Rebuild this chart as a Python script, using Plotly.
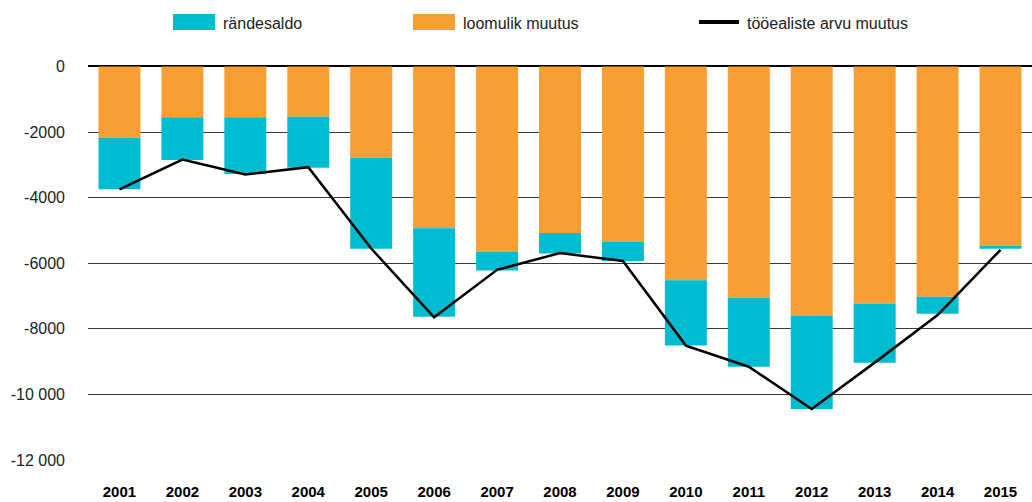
import plotly.graph_objects as go

years = [str(y) for y in range(2001, 2016)]
loomulik_muutus = [-2170, -1550, -1550, -1530, -2780, -4935, -5650, -5080, -5355, -6520, -7050, -7610, -7235, -7020, -5465]
randesaldo = [-1575, -1300, -1730, -1555, -2775, -2700, -570, -620, -580, -1990, -2105, -2835, -1800, -520, -90]
tooealiste_muutus = [-3745, -2840, -3290, -3070, -5550, -7650, -6200, -5690, -5930, -8510, -9155, -10445, -9030, -7580, -5590]

y_ticks = [0, -2000, -4000, -6000, -8000, -10000, -12000]
y_ticktext = ["0", "-2000", "-4000", "-6000", "-8000", "-10 000", "-12 000"]

legend_labels = ["rändesaldo", "loomulik muutus", "tööealiste arvu muutus"]

CYAN = "#00BCD0"
ORANGE = "#F89E32"

W, H = 1032, 502
ML, MR, MT, MB = 88, 0, 66, 41
PW, PH = W - ML - MR, H - MT - MB

def px(x):
    return (x - ML) / PW

def py(y):
    return (H - MB - y) / PH

fig = go.Figure()
fig.add_trace(go.Bar(x=years, y=loomulik_muutus, name=legend_labels[1],
                     marker=dict(color=ORANGE, line=dict(width=0))))
fig.add_trace(go.Bar(x=years, y=randesaldo, name=legend_labels[0],
                     marker=dict(color=CYAN, line=dict(width=0))))
fig.add_trace(go.Scatter(x=years, y=tooealiste_muutus, name=legend_labels[2],
                         mode="lines", line=dict(color="black", width=2.5)))

font_main = "Liberation Sans, Arial, Helvetica, sans-serif"

shapes = [
    dict(type="rect", xref="paper", yref="paper", x0=px(173), x1=px(215), y0=py(30), y1=py(14),
         fillcolor=CYAN, line=dict(width=0)),
    dict(type="rect", xref="paper", yref="paper", x0=px(413), x1=px(455), y0=py(30), y1=py(14),
         fillcolor=ORANGE, line=dict(width=0)),
    dict(type="line", xref="paper", yref="paper", x0=px(699), x1=px(739), y0=py(22), y1=py(22),
         line=dict(color="black", width=4)),
]
annotations = [
    dict(xref="paper", yref="paper", x=px(221), y=py(23), text=legend_labels[0], showarrow=False,
         xanchor="left", yanchor="middle", font=dict(size=16, color="#222", family=font_main)),
    dict(xref="paper", yref="paper", x=px(461), y=py(23), text=legend_labels[1], showarrow=False,
         xanchor="left", yanchor="middle", font=dict(size=16, color="#222", family=font_main)),
    dict(xref="paper", yref="paper", x=px(745), y=py(23), text=legend_labels[2], showarrow=False,
         xanchor="left", yanchor="middle", font=dict(size=16, color="#222", family=font_main)),
]

fig.update_layout(
    width=W, height=H,
    margin=dict(l=ML, r=MR, t=MT, b=MB, pad=0),
    barmode="relative",
    bargap=0.333,
    plot_bgcolor="white",
    paper_bgcolor="white",
    showlegend=False,
    shapes=shapes,
    annotations=annotations,
    font=dict(family=font_main, color="#222"),
    xaxis=dict(
        type="category",
        range=[-0.5, 14.5],
        showgrid=False, zeroline=False, showline=False,
        ticks="",
        automargin=False,
        tickfont=dict(size=15, color="black", family="Liberation Sans, Arial, sans-serif", weight="bold"),
        ticklabelstandoff=20,
    ),
    yaxis=dict(
        range=[-12030, 15],
        tickvals=y_ticks,
        ticktext=y_ticktext,
        automargin=False,
        showgrid=True, gridcolor="#3a3a3a", gridwidth=1,
        zeroline=True, zerolinecolor="black", zerolinewidth=2,
        showline=False, ticks="",
        tickfont=dict(size=16, color="#222", family=font_main),
        ticklabelstandoff=22,
    ),
)

fig.write_html("out.html",
               config={"displayModeBar": False},
               post_script="document.body.style.margin='0';document.body.style.overflow='hidden';")
